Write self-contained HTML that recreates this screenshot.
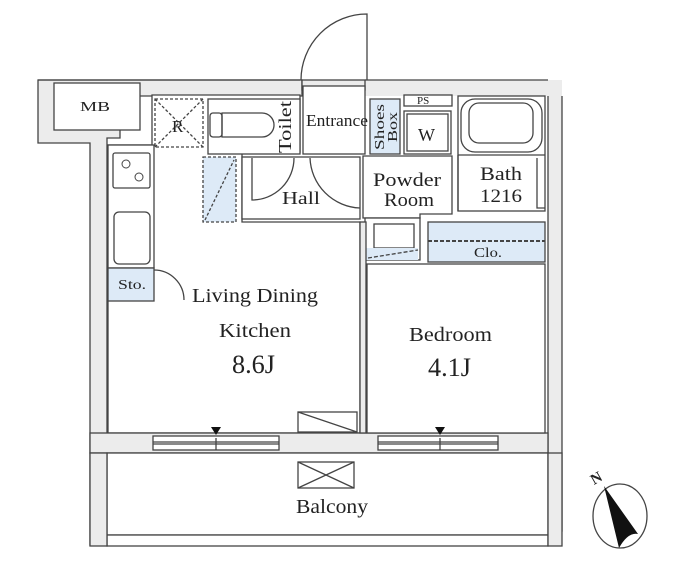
<!DOCTYPE html>
<html><head><meta charset="utf-8"><style>
html,body{margin:0;padding:0;background:#fff}
svg{display:block}
text{font-family:"Liberation Serif",serif;fill:#222}
</style></head><body>
<svg width="698" height="563" viewBox="0 0 698 563" xmlns="http://www.w3.org/2000/svg">
<g stroke="#444" stroke-width="1.3" fill="none">
<path d="M38 80 H302 V96 H120 V138 H107 V545 H90 V143 H38 Z" fill="#ececec"/>
<path d="M365 80 H562 V531 H548 V96 H365 Z" fill="#ececec" stroke="none"/>
<path d="M38 80 H300" /><path d="M365 80 H548"/>
<path d="M562 96 V531 H548"/>
<path d="M548 96 V545"/>
<rect x="302" y="80" width="63" height="10" fill="#ececec"/>
<rect x="54" y="83" width="86" height="47" fill="#fff"/>
<path d="M108 145 H152 V95 H300 V152 H242 V222 H360 V433 H108 Z" fill="#fff"/>
<rect x="90" y="433" width="458" height="20" fill="#ececec"/>
<rect x="153" y="436" width="126" height="14" fill="#fff"/>
<line x1="153" y1="442" x2="279" y2="442"/><line x1="153" y1="444" x2="279" y2="444"/>
<line x1="216" y1="438" x2="216" y2="450"/>
<rect x="378" y="436" width="120" height="14" fill="#fff"/>
<line x1="378" y1="442" x2="498" y2="442"/><line x1="378" y1="444" x2="498" y2="444"/>
<line x1="440" y1="438" x2="440" y2="450"/>
<rect x="107" y="453" width="441" height="82" fill="#fff"/>
<rect x="107" y="535" width="441" height="11" fill="#fff"/>
<rect x="90" y="453" width="17" height="93" fill="#ececec"/>
<rect x="548" y="453" width="14" height="93" fill="#ececec"/>
<rect x="298" y="462" width="56" height="26"/>
<path d="M298 462 L354 488 M354 462 L298 488"/>
<rect x="108" y="145" width="46" height="123" fill="#fff"/>
<rect x="113" y="153" width="37" height="35" rx="2"/>
<rect x="114" y="212" width="36" height="52" rx="5"/>
<rect x="108" y="268" width="46" height="33" fill="#ddeaf7"/>
<path d="M154 270 A30 30 0 0 1 184 300"/>
<rect x="155" y="99" width="48" height="48" stroke-dasharray="3 2"/>
<path d="M155 99 L203 147 M203 99 L155 147" stroke-dasharray="3 2"/>
<rect x="203" y="157" width="33" height="65" fill="#ddeaf7" stroke-dasharray="3 2"/>
<path d="M205 220 L234 160" stroke-dasharray="3 2"/>
<rect x="208" y="99" width="92" height="55" fill="#fff"/>
<rect x="210" y="113" width="12" height="24" rx="3"/>
<path d="M222 113 H262 A12 12 0 0 1 262 137 H222 Z"/>
<rect x="242" y="157" width="118" height="62" fill="#fff"/>
<path d="M252 158 V200 A42 42 0 0 0 294 158"/>
<path d="M310 158 A52 52 0 0 0 360 208"/>
<rect x="303" y="86" width="62" height="68" fill="#fff"/>
<path d="M367 80 V14 A66 66 0 0 0 301 80"/>
<rect x="370" y="99" width="30" height="55" fill="#ddeaf7"/>
<rect x="404" y="95" width="48" height="11" fill="#fff"/>
<rect x="404" y="111" width="47" height="43" fill="#fff"/>
<rect x="407" y="114" width="41" height="37"/>
<path d="M363 156 H452 V214 H420 V218 H363 Z" fill="#fff"/>
<rect x="365" y="218" width="55" height="42" fill="#fff"/>
<rect x="374" y="224" width="40" height="24"/>
<rect x="366" y="248" width="52" height="12" fill="#ddeaf7" stroke="none"/>
<path d="M368 258 L418 250" stroke-dasharray="4 2"/>
<rect x="458" y="96" width="87" height="115" fill="#fff"/>
<rect x="461" y="99" width="81" height="53" rx="14"/>
<rect x="469" y="103" width="64" height="40" rx="10"/>
<path d="M458 155 H545 M458 211 V155"/>
<path d="M537 158 V208 H545"/>
<rect x="428" y="222" width="117" height="40" fill="#ddeaf7"/>
<line x1="428" y1="241" x2="545" y2="241" stroke-dasharray="4 2" stroke-width="2"/>
<rect x="367" y="264" width="178" height="169" fill="#fff"/>
<rect x="360" y="222" width="6" height="211" fill="#ececec"/>
<rect x="298" y="412" width="59" height="20" fill="#fff"/>
<path d="M298 412 L357 432"/>
<ellipse cx="620" cy="516" rx="27" ry="32"/>
</g>
<path d="M604 486 L638 534 Q628 532 619 548 Z" fill="#111"/>
<g fill="none" stroke="#444"><circle cx="126" cy="164" r="4"/><circle cx="139" cy="177" r="4"/></g>
<path d="M211 427 H221 L216 435 Z" fill="#111"/>
<path d="M435 427 H445 L440 435 Z" fill="#111"/>
<g font-size="15">
<text x="80" y="111" font-size="14" textLength="30" lengthAdjust="spacingAndGlyphs">MB</text>
<text x="172" y="132" font-size="17">R</text>
<text x="306" y="126" font-size="17" textLength="62" lengthAdjust="spacingAndGlyphs">Entrance</text>
<text x="282" y="204" font-size="18" textLength="38" lengthAdjust="spacingAndGlyphs">Hall</text>
<text x="373" y="186" font-size="19" textLength="68" lengthAdjust="spacingAndGlyphs">Powder</text>
<text x="384" y="206" font-size="19" textLength="50" lengthAdjust="spacingAndGlyphs">Room</text>
<text x="418" y="141" font-size="18">W</text>
<text x="417" y="104" font-size="11">PS</text>
<text x="480" y="180" font-size="19" textLength="42" lengthAdjust="spacingAndGlyphs">Bath</text>
<text x="480" y="202" font-size="19" textLength="42" lengthAdjust="spacingAndGlyphs">1216</text>
<text x="474" y="257" font-size="14" textLength="28" lengthAdjust="spacingAndGlyphs">Clo.</text>
<text x="118" y="289" font-size="14" textLength="28" lengthAdjust="spacingAndGlyphs">Sto.</text>
<text x="192" y="302" font-size="20" textLength="126" lengthAdjust="spacingAndGlyphs">Living Dining</text>
<text x="219" y="337" font-size="20" textLength="72" lengthAdjust="spacingAndGlyphs">Kitchen</text>
<text x="232" y="373" font-size="26" textLength="43" lengthAdjust="spacingAndGlyphs">8.6J</text>
<text x="409" y="341" font-size="20" textLength="83" lengthAdjust="spacingAndGlyphs">Bedroom</text>
<text x="428" y="376" font-size="26" textLength="43" lengthAdjust="spacingAndGlyphs">4.1J</text>
<text x="296" y="513" font-size="20" textLength="72" lengthAdjust="spacingAndGlyphs">Balcony</text>
<text x="0" y="0" font-size="18" textLength="52" lengthAdjust="spacingAndGlyphs" transform="translate(291,153) rotate(-90)">Toilet</text>
<text x="0" y="0" font-size="14" textLength="46" lengthAdjust="spacingAndGlyphs" transform="translate(384,150) rotate(-90)">Shoes</text>
<text x="0" y="0" font-size="14" textLength="30" lengthAdjust="spacingAndGlyphs" transform="translate(397,142) rotate(-90)">Box</text>
<text x="0" y="0" font-size="15" font-family="Liberation Sans" font-weight="bold" transform="translate(594,485) rotate(-30)">N</text>
</g>
</svg>
</body></html>
